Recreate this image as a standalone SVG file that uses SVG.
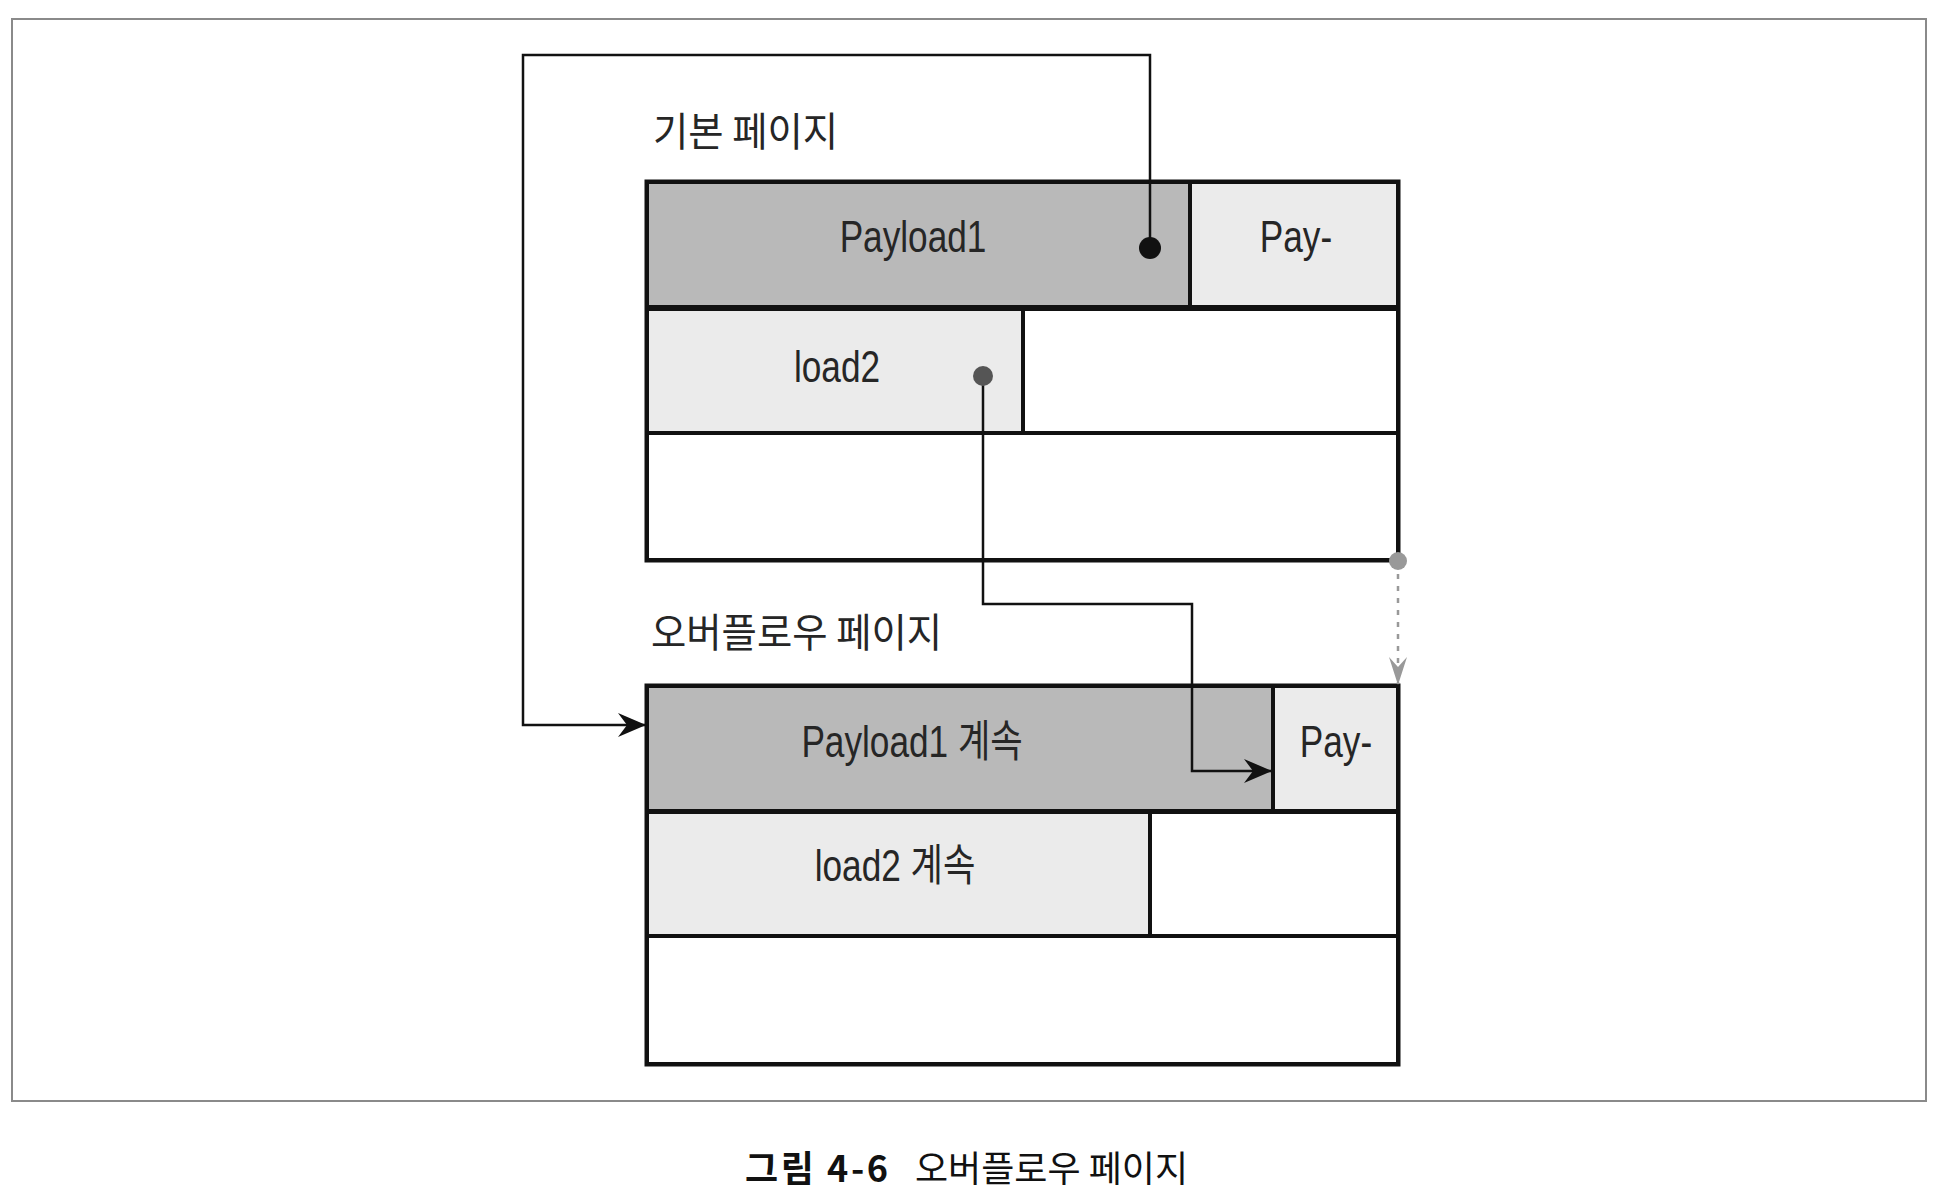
<svg xmlns="http://www.w3.org/2000/svg" width="1938" height="1194" viewBox="0 0 1938 1194">
<defs>
<style>
.frame{fill:none;stroke:#8a8a8a;stroke-width:2}
.page{fill:#fff;stroke:#111;stroke-width:5}
.dark{fill:#b9b9b9;stroke:#111;stroke-width:4}
.light{fill:#ebebeb;stroke:#111;stroke-width:4}
.empty{fill:#fff;stroke:#111;stroke-width:4}
.lbl{font-family:"Liberation Sans","Noto Sans CJK KR",sans-serif;font-size:44px;fill:#262626;text-anchor:middle}
.ttl{font-family:"Noto Sans CJK KR",sans-serif;font-size:40px;fill:#262626}
.wire{fill:none;stroke:#111;stroke-width:2.5}
.dash{fill:none;stroke:#999;stroke-width:2.5;stroke-dasharray:5 7}
.cap{font-family:"Noto Sans CJK KR",sans-serif;font-size:36px;fill:#111}
</style>
<marker id="arr" viewBox="0 0 28 24" refX="27" refY="12" markerWidth="28" markerHeight="24" markerUnits="userSpaceOnUse" orient="auto">
<path d="M0,0 L28,12 L0,24 L9,12 z" fill="#111"/>
</marker>
<marker id="garr" viewBox="0 0 28 18" refX="27" refY="9" markerWidth="28" markerHeight="18" markerUnits="userSpaceOnUse" orient="auto">
<path d="M0,0 L28,9 L0,18 L10,9 z" fill="#999"/>
</marker>
</defs>
<rect width="1938" height="1194" fill="#fff"/>
<rect class="frame" x="12" y="19" width="1914" height="1082"/>

<g id="base-page">
<text class="ttl" transform="translate(653,146) scale(0.96,1)">기본 페이지</text>
<rect class="page" x="647" y="182" width="751" height="378"/>
<g id="base-payload1">
<rect class="dark" x="647" y="182" width="543" height="125"/>
<text class="lbl" transform="translate(913,252) scale(0.8,1)">Payload1</text>
</g>
<g id="base-pay">
<rect class="light" x="1190" y="182" width="208" height="125"/>
<text class="lbl" transform="translate(1296,252) scale(0.8,1)">Pay-</text>
</g>
<g id="base-load2">
<rect class="light" x="647" y="309" width="376" height="124"/>
<text class="lbl" transform="translate(837,382) scale(0.8,1)">load2</text>
</g>
<rect class="empty" x="1023" y="309" width="375" height="124"/>
<rect class="empty" x="647" y="433" width="751" height="127"/>
</g>

<g id="overflow-page">
<text class="ttl" transform="translate(651,647) scale(0.96,1)">오버플로우 페이지</text>
<rect class="page" x="647" y="686" width="751" height="378"/>
<g id="ovf-payload1">
<rect class="dark" x="647" y="686" width="626" height="125"/>
<text class="lbl" transform="translate(912,757) scale(0.8,1)">Payload1 계속</text>
</g>
<g id="ovf-pay">
<rect class="light" x="1273" y="686" width="125" height="125"/>
<text class="lbl" transform="translate(1336,757) scale(0.8,1)">Pay-</text>
</g>
<g id="ovf-load2">
<rect class="light" x="647" y="812" width="503" height="124"/>
<text class="lbl" transform="translate(895,881) scale(0.8,1)">load2 계속</text>
</g>
<rect class="empty" x="1150" y="812" width="248" height="124"/>
<rect class="empty" x="647" y="936" width="751" height="128"/>
</g>

<g id="connectors">
<path class="wire" d="M1150,248 V55 H523 V725 H645" marker-end="url(#arr)"/>
<circle cx="1150" cy="248" r="11" fill="#111"/>
<path class="wire" d="M983,376 V604 H1192 V771 H1271" marker-end="url(#arr)"/>
<circle cx="983" cy="376" r="10" fill="#555"/>
<path class="dash" d="M1398,562 V684" marker-end="url(#garr)"/>
<circle cx="1398" cy="561" r="9" fill="#999"/>
</g>

<g id="caption">
<text class="cap" x="745" y="1182" font-weight="bold" textLength="143" lengthAdjust="spacing">그림 4-6</text>
<text class="cap" x="915" y="1182">오버플로우 페이지</text>
</g>
</svg>
